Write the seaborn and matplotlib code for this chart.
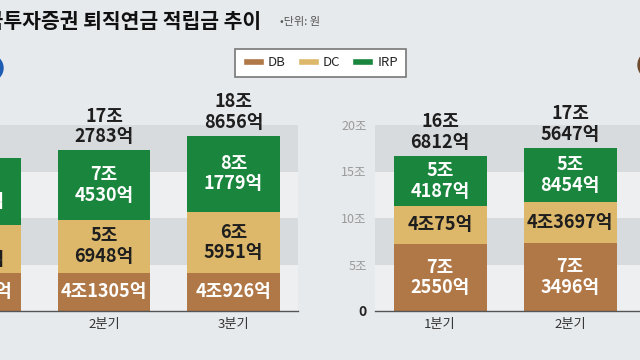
import pandas as pd
import seaborn as sns
import matplotlib.pyplot as plt
from matplotlib.patches import Patch, Ellipse

# left panel (first quarter is cut off at the image edge)
quarters_a = ["1분기", "2분기", "3분기"]
db_a = [4.0912, 4.1305, 4.0926]
dc_a = [5.1520, 5.6948, 6.5951]
irp_a = [7.2104, 7.4530, 8.1779]
db_lbl_a = ["4조912억", "4조1305억", "4조926억"]
dc_lbl_a = ["5조\n1520억", "5조\n6948억", "6조\n5951억"]
irp_lbl_a = ["7조\n2104억", "7조\n4530억", "8조\n1779억"]
total_lbl_a = ["16조\n4536억", "17조\n2783억", "18조\n8656억"]

# right panel
quarters_b = ["1분기", "2분기"]
db_b = [7.2550, 7.3496]
dc_b = [4.0075, 4.3697]
irp_b = [5.4187, 5.8454]
db_lbl_b = ["7조\n2550억", "7조\n3496억"]
dc_lbl_b = ["4조75억", "4조3697억"]
irp_lbl_b = ["5조\n4187억", "5조\n8454억"]
total_lbl_b = ["16조\n6812억", "17조\n5647억"]

y_ticks = [0, 5, 10, 15, 20]
y_tick_labels = ["0", "5조", "10조", "15조", "20조"]

BROWN = "#B07747"
TAN = "#DDB86A"
GREEN = "#1A853C"
BG = "#E7EAED"
BAND_DARK = "#D8DBDE"
BAND_LIGHT = "#EDEFF1"
FS = 13

sns.set_style("white")
plt.rcParams['font.family'] = ['Noto Sans CJK KR', 'DejaVu Sans']


def draw_panel(ax, quarters, db, dc, irp, db_lbl, dc_lbl, irp_lbl, total_lbl):
    df = pd.DataFrame({"quarter": quarters, "DB": db, "DC": dc, "IRP": irp})
    df["DB_DC"] = df["DB"] + df["DC"]
    df["total"] = df["DB_DC"] + df["IRP"]

    ax.set_facecolor("none")
    ax.axhspan(0, 5, color=BAND_LIGHT, zorder=0, lw=0)
    ax.axhspan(5, 10, color=BAND_DARK, zorder=0, lw=0)
    ax.axhspan(10, 15, color=BAND_LIGHT, zorder=0, lw=0)
    ax.axhspan(15, 20, color=BAND_DARK, zorder=0, lw=0)

    # stacked look: draw cumulative totals back to front
    for col, c in [("total", GREEN), ("DB_DC", TAN), ("DB", BROWN)]:
        sns.barplot(data=df, x="quarter", y=col, color=c, saturation=1, width=0.715,
                    errorbar=None, linewidth=0, ax=ax, zorder=2)

    for i, row in df.iterrows():
        ax.text(i, row["DB"] / 2, db_lbl[i], ha='center', va='center', color='white',
                fontsize=FS, fontweight='bold', linespacing=1.1, zorder=3)
        ax.text(i, row["DB"] + row["DC"] / 2, dc_lbl[i], ha='center', va='center', color='#1E1E1E',
                fontsize=FS, fontweight='bold', linespacing=1.1, zorder=3)
        ax.text(i, row["DB_DC"] + row["IRP"] / 2, irp_lbl[i], ha='center', va='center', color='white',
                fontsize=FS, fontweight='bold', linespacing=1.1, zorder=3)
        ax.annotate(total_lbl[i], xy=(i, row["total"]), xytext=(0, 4), textcoords='offset pixels',
                    ha='center', va='bottom', color='#1E1E1E', fontsize=FS, fontweight='bold',
                    linespacing=1.1)

    ax.set_ylim(0, 20)
    ax.set_xlabel("")
    ax.set_ylabel("")
    for s in ["top", "right", "left"]:
        ax.spines[s].set_visible(False)
    ax.spines["bottom"].set_color("#555555")
    ax.spines["bottom"].set_linewidth(1.0)
    ax.tick_params(axis='x', which='major', length=0, pad=5, labelsize=9.5, labelcolor='#333333')
    ax.set_xticks(range(len(quarters)))
    ax.set_xticks([i - 0.5 for i in range(len(quarters) + 1)], minor=True)
    ax.tick_params(axis='x', which='minor', direction='in', length=4, width=1, color='#555555')


fig = plt.figure(figsize=(6.4, 3.6), dpi=100, facecolor=BG)

ax_a = fig.add_axes([0, 1 - 311 / 360, 298 / 640, 186 / 360])
draw_panel(ax_a, quarters_a, db_a, dc_a, irp_a, db_lbl_a, dc_lbl_a, irp_lbl_a, total_lbl_a)
ax_a.set_xlim(0.194, 2.5)
ax_a.set_yticks([])

ax_b = fig.add_axes([375 / 640, 1 - 311 / 360, 265 / 640, 186 / 360])
draw_panel(ax_b, quarters_b, db_b, dc_b, irp_b, db_lbl_b, dc_lbl_b, irp_lbl_b, total_lbl_b)
ax_b.set_xlim(-0.5, 1.538)
ax_b.set_yticks(y_ticks)
ax_b.set_yticklabels(y_tick_labels)
ax_b.tick_params(axis='y', length=0, pad=6, labelsize=9)
for lbl in ax_b.get_yticklabels():
    if lbl.get_text() == "0":
        lbl.set_color("#222222")
        lbl.set_fontweight("bold")
        lbl.set_fontsize(10)
    else:
        lbl.set_color("#9A9A9A")

# title and unit
fig.text(261 / 640, 1 - 22 / 360, "한국투자증권 퇴직연금 적립금 추이", ha='right', va='center',
         fontsize=14.7, fontweight='bold', color='#111111')
fig.text(280 / 640, 1 - 22 / 360, "•단위: 원", ha='left', va='center', fontsize=8, color='#555555')

# company marks, mostly outside the frame
fig.add_artist(Ellipse((-10 / 640, 1 - 68 / 360), 26 / 640, 26 / 360, color="#1F5CB4"))
fig.add_artist(Ellipse((652 / 640, 1 - 65 / 360), 28 / 640, 28 / 360, color="#6E4A2C"))

handles = [Patch(facecolor=BROWN, label="DB"), Patch(facecolor=TAN, label="DC"),
           Patch(facecolor=GREEN, label="IRP")]
leg = fig.legend(handles=handles, ncol=3, loc='center', bbox_to_anchor=(320.5 / 640, 1 - 63 / 360),
                 frameon=True, fancybox=False, edgecolor='#777777', framealpha=1, facecolor='white',
                 fontsize=9.5, handlelength=1.6, handleheight=0.45, handletextpad=0.3,
                 columnspacing=0.9, borderpad=0.6)
leg.get_frame().set_linewidth(1.2)

fig.savefig("out.png", dpi=100, facecolor=fig.get_facecolor())
